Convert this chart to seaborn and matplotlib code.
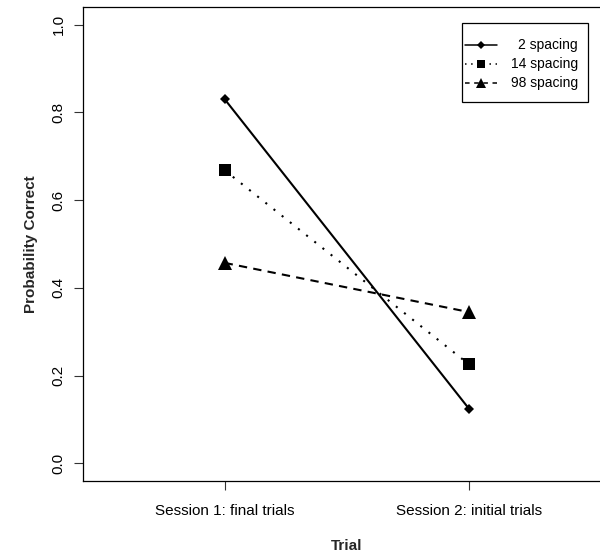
import matplotlib
matplotlib.use("Agg")
import matplotlib.pyplot as plt
from matplotlib.lines import Line2D
from matplotlib.patches import Rectangle
import seaborn as sns
import pandas as pd

# Probability correct at the end of session 1 and start of session 2
trials = ["Session 1: final trials", "Session 2: initial trials"]
spacing_labels = ["2 spacing", "14 spacing", "98 spacing"]
p_spacing_2 = [0.83, 0.125]
p_spacing_14 = [0.668, 0.226]
p_spacing_98 = [0.457, 0.345]

series = [p_spacing_2, p_spacing_14, p_spacing_98]
markers = ["D", "s", "^"]
marker_sizes = [5.5, 8.5, 9.5]
legend_marker_sizes = [4.5, 6.0, 7.0]
line_styles = ["-", (0, (1, 4)), (0, (4, 3))]
legend_line_styles = ["-", (0, (1, 3)), (0, (3, 3))]

sns.set_theme(style="white")
plt.rcParams["font.family"] = ["Liberation Sans", "DejaVu Sans"]

W, H = 600, 554
fig = plt.figure(figsize=(W / 100, H / 100), dpi=100)
# plot region in pixels: left 83, top 7, bottom 481; right edge lies past the canvas
left, top, bottom, right = 83, 7, 481, 610.5
ax = fig.add_axes([left / W, 1 - bottom / H, (right - left) / W, (bottom - top) / H])

for vals, mk, ms, ls in zip(series, markers, marker_sizes, line_styles):
    df = pd.DataFrame({"Trial": trials, "p": vals})
    sns.lineplot(data=df, x="Trial", y="p", ax=ax, color="black",
                 marker=mk, markersize=ms, markeredgewidth=0,
                 linestyle=ls, linewidth=1.5, sort=False)

ax.set_xlim(-0.58, 1.58)
ax.set_ylim(-0.04, 1.04)
ax.set_yticks([0.0, 0.2, 0.4, 0.6, 0.8, 1.0])
ax.set_yticklabels(["0.0", "0.2", "0.4", "0.6", "0.8", "1.0"], rotation=90, va="center")
ax.set_xticks([0, 1])
ax.set_xticklabels(trials)
ax.tick_params(axis="both", which="both", direction="out", length=6.5, width=0.8,
               color="#333333", labelsize=11, labelcolor="black", pad=6,
               left=True, bottom=True)
ax.tick_params(axis="x", pad=10)
for sp in ax.spines.values():
    sp.set_visible(True)
    sp.set_color("black")
    sp.set_linewidth(0.9)

ax.set_xlabel("Trial", fontsize=11, fontweight="bold", labelpad=15)
ax.set_ylabel("Probability Correct", fontsize=11, fontweight="bold", labelpad=9.5)

# legend box drawn in figure pixel coordinates
def fx(px):
    return px / W

def fy(py):
    return 1 - py / H

fig.add_artist(Rectangle((fx(462), fy(102)), fx(588) - fx(462), fy(23) - fy(102),
                         transform=fig.transFigure, facecolor="white",
                         edgecolor="black", linewidth=0.9, zorder=5))
row_y = [45, 64, 83]
for ry, mk, ms, ls, lab in zip(row_y, markers, legend_marker_sizes,
                               legend_line_styles, spacing_labels):
    fig.add_artist(Line2D([fx(465), fx(497)], [fy(ry), fy(ry)], transform=fig.transFigure,
                          color="black", linestyle=ls, linewidth=1.1, zorder=6))
    fig.add_artist(Line2D([fx(481)], [fy(ry)], transform=fig.transFigure, color="black",
                          marker=mk, markersize=ms, markeredgewidth=0,
                          linestyle="none", zorder=7))
    fig.text(fx(578), fy(ry), lab, ha="right", va="center", fontsize=10,
             color="black", zorder=7)

fig.savefig("out.png", dpi=100, facecolor="white")
